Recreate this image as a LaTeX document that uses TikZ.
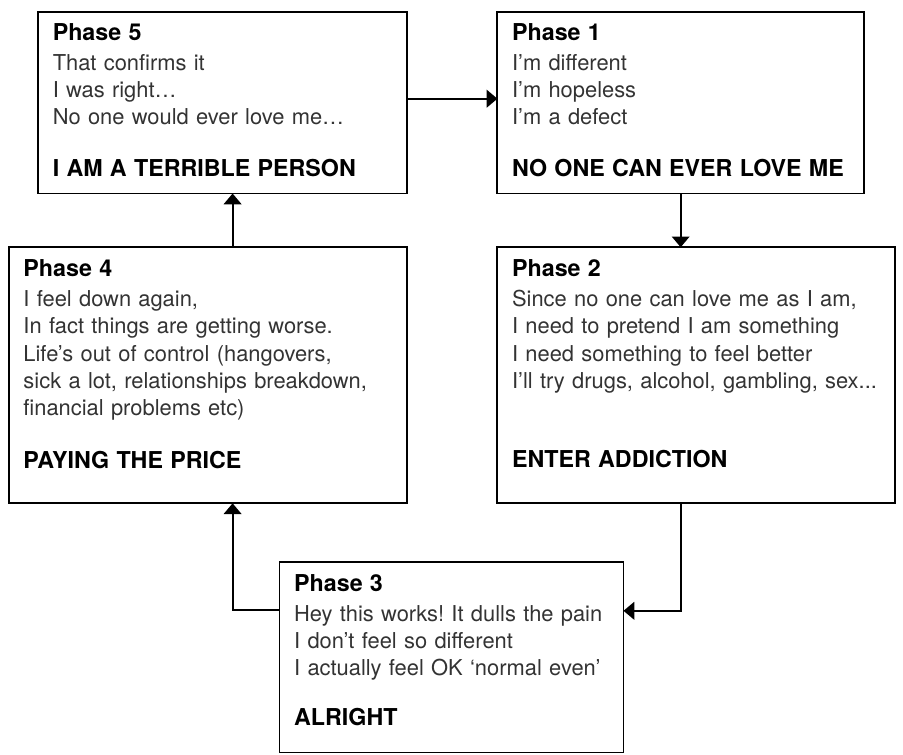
\documentclass[tikz,border=0pt]{standalone}
\usepackage{fontspec}
\setmainfont{TeX Gyre Heros}
\usetikzlibrary{arrows.meta}

\newcommand{\phasehead}[1]{{\fontsize{23.8}{27.7}\selectfont\bfseries\color{black}#1}}

\begin{document}
\frenchspacing
\begin{tikzpicture}[
        x=1pt, y=-1pt,
        >={Triangle[width=18pt,length=11pt]},
        phase/.style={rectangle, draw, line width=2pt, anchor=north west, inner xsep=15pt, inner ysep=0pt, outer sep=0pt, align=left, text=black!80, font=\fontsize{22.4}{27.7}\selectfont},
        arr/.style={->, line width=2pt}
    ]
    \useasboundingbox (0,0) rectangle (924,772);

    % Boxes
    \node[phase, minimum width=377pt, text width=347pt, text height=29pt, text depth=157pt] (p5) at (39,12)
        {\phasehead{Phase 5}\\[3.3pt]
         That confirms it\\
         I was right…\\
         No one would ever love me…\\[25pt]
         \phasehead{I AM A TERRIBLE PERSON}};
    \node[phase, minimum width=375pt, text width=345pt, text height=29pt, text depth=157pt] (p1) at (509,12)
        {\phasehead{Phase 1}\\[3.3pt]
         I’m different\\
         I’m hopeless\\
         I’m a defect\\[25pt]
         \phasehead{NO ONE CAN EVER LOVE ME}};
    \node[phase, minimum width=407pt, text width=377pt, text height=30pt, text depth=232pt] (p4) at (9,253)
        {\phasehead{Phase 4}\\[3.3pt]
         I feel down again,\\
         In fact things are getting worse.\\
         Life’s out of control (hangovers,\\
         sick a lot, relationships breakdown,\\
         financial problems etc)\\[26.5pt]
         \phasehead{PAYING THE PRICE}};
    \node[phase, minimum width=407pt, text width=377pt, text height=30pt, text depth=232pt] (p2) at (509,253)
        {\phasehead{Phase 2}\\[3.3pt]
         Since no one can love me as I am,\\
         I need to pretend I am something\\
         I need something to feel better\\
         I’ll try drugs, alcohol, gambling, sex...\\[54pt]
         \phasehead{ENTER ADDICTION}};
    \node[phase, minimum width=352pt, text width=322pt, text height=30pt, text depth=165pt] (p3) at (286,575)
        {\phasehead{Phase 3}\\[3.3pt]
         Hey this works! It dulls the pain\\
         I don’t feel so different\\
         I actually feel OK ‘normal even’\\[23pt]
         \phasehead{ALRIGHT}};

    % Connectors
    \draw[arr] ([yshift=4pt]p5.east) -- ([yshift=4pt]p5.east -| p1.west);
    \draw[arr] (p1.south) -- (p1.south |- p2.north);
    \draw[arr] (p1.south |- p2.south) |- ([yshift=-50pt]p3.north east);
    \draw[arr] ([yshift=-49pt]p3.north west) -| ([xshift=10.5pt]p5.south |- p4.south);
    \draw[arr] ([xshift=10.5pt]p5.south |- p4.north) -- ([xshift=10.5pt]p5.south);

\end{tikzpicture}
\end{document}
